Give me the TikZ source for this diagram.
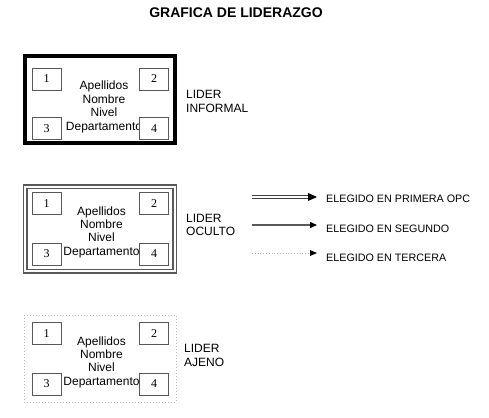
\documentclass[tikz,border=0pt]{standalone}
\usepackage{fontspec}
\setmainfont{Liberation Sans}
\newfontfamily\numfont{Liberation Serif}
\usetikzlibrary{arrows.meta}
\definecolor{boxgray}{gray}{0.35}
\definecolor{dotgray}{gray}{0.72}
\definecolor{arrgray}{gray}{0.25}
\begin{document}
\begin{tikzpicture}[x=1pt,y=-1pt,
  txt/.style={inner sep=0pt,anchor=base,font=\fontsize{12}{14}\selectfont},
  lbl/.style={inner sep=0pt,anchor=base west,font=\fontsize{12}{14}\selectfont},
  leg/.style={inner sep=0pt,anchor=base west,font=\fontsize{10.75}{13}\selectfont},
  numbox/.style={draw=boxgray,line width=0.9pt,fill=white,minimum width=29pt,minimum height=22pt,inner sep=0pt,font=\numfont\fontsize{12}{14}\selectfont},
  tipsmall/.style={-{Triangle[length=7pt,width=6pt,color=black]}}
]
\useasboundingbox (0,0) rectangle (489,417);
% title
\node[inner sep=0pt,anchor=base,font=\bfseries\fontsize{14}{16}\selectfont] (title) at (236,18) {GRAFICA DE LIDERAZGO};

% ---- box 1: thick
\draw[line width=4pt] (24.7,56) rectangle (174.7,143);
\node[txt] (a1) at (104,90) {Apellidos};
\node[txt] (n1) at (104,103.5) {Nombre};
\node[txt] (v1) at (104,117) {Nivel};
\node[txt] (d1) at (104,130.5) {Departamento};
\node[numbox] (b11) at (46.5,79) {1};
\node[numbox] (b12) at (154,79) {2};
\node[numbox] (b13) at (46.5,128.5) {3};
\node[numbox] (b14) at (154,128.5) {4};
\node[lbl] (l1a) at (186,99) {LIDER};
\node[lbl] (l1b) at (186,112) {INFORMAL};

% ---- box 2: double
\draw[boxgray,line width=1.3pt] (23.5,185) rectangle (176.5,273);
\draw[boxgray,line width=1.1pt] (27,188.5) rectangle (173,269.5);
\node[txt] (a2) at (101.5,215) {Apellidos};
\node[txt] (n2) at (101.5,228.3) {Nombre};
\node[txt] (v2) at (101.5,241.6) {Nivel};
\node[txt] (d2) at (101.5,255) {Departamento};
\node[numbox] (b21) at (46.5,203.5) {1};
\node[numbox] (b22) at (154,203.5) {2};
\node[numbox] (b23) at (46.5,254) {3};
\node[numbox] (b24) at (154,254) {4};
\node[lbl] (l2a) at (186,222) {LIDER};
\node[lbl] (l2b) at (186,235) {OCULTO};

% ---- box 3: dotted
\draw[dotgray,line width=1pt,dotted] (24,315) rectangle (176,402);
\node[txt] (a3) at (101.5,345) {Apellidos};
\node[txt] (n3) at (101.5,358.3) {Nombre};
\node[txt] (v3) at (101.5,371.6) {Nivel};
\node[txt] (d3) at (101.5,385.5) {Departamento};
\node[numbox] (b31) at (46.5,333.5) {1};
\node[numbox] (b32) at (154,333.5) {2};
\node[numbox] (b33) at (46.5,384) {3};
\node[numbox] (b34) at (154,384) {4};
\node[lbl] (l3a) at (184,352) {LIDER};
\node[lbl] (l3b) at (184,366) {AJENO};

% ---- legend
\coordinate (s1) at (252,197);
\coordinate (e1) at (317,197);
\coordinate (s2) at (252,225);
\coordinate (e2) at (317,225);
\coordinate (s3) at (252,253);
\coordinate (e3) at (317,253);
\draw[arrgray,line width=1.1pt,double=white,double distance=1.2pt,shorten >=8pt] (s1) -- (e1);
\fill[black] (e1) -- ++(-9,-4) -- ++(0,8) -- cycle;
\draw[boxgray,line width=1.3pt,tipsmall] (s2) -- (e2);
\draw[dotgray,line width=0.8pt,dotted,shorten >=7pt] (s3) -- (e3);
\fill[black] (e3) -- ++(-7,-3) -- ++(0,6) -- cycle;
\node[leg] (g1) at (326,202) {ELEGIDO EN PRIMERA OPC};
\node[leg] (g2) at (326,232) {ELEGIDO EN SEGUNDO};
\node[leg] (g3) at (326,261) {ELEGIDO EN TERCERA};
\end{tikzpicture}
\end{document}
